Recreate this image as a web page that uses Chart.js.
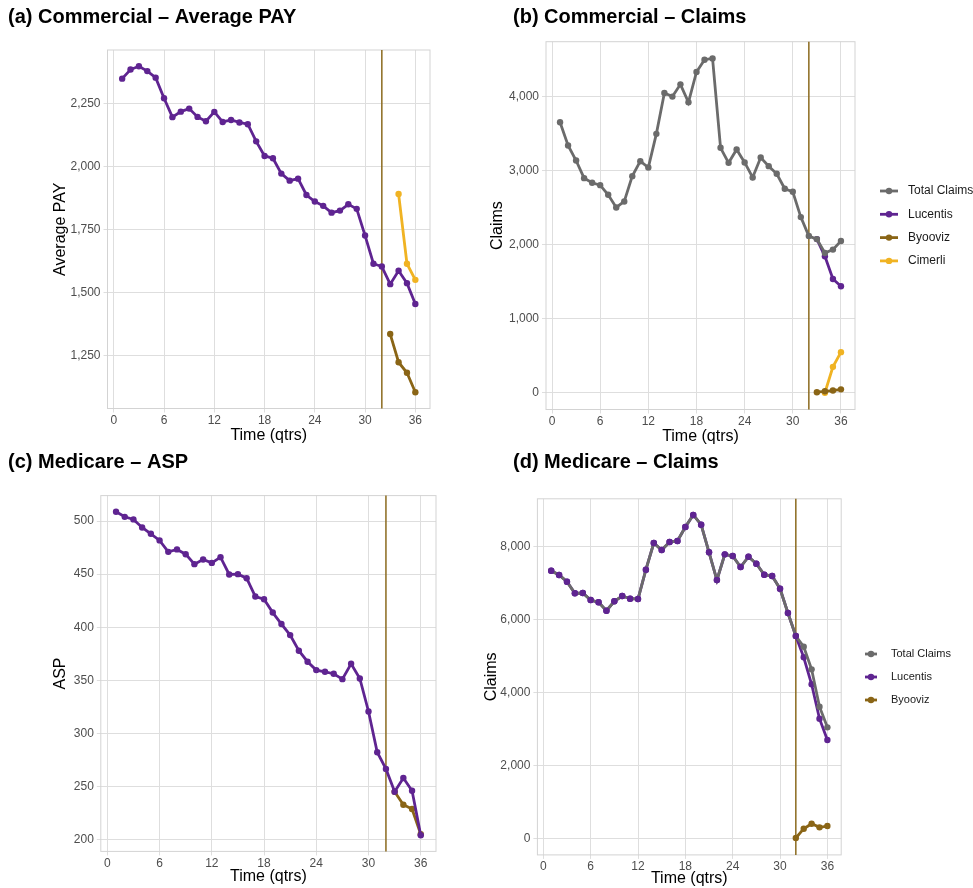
<!DOCTYPE html>
<html>
<head>
<meta charset="utf-8">
<script src="https://cdn.jsdelivr.net/npm/chart.js@4.4.1/dist/chart.umd.min.js"></script>
<style>
  body { margin: 0; background: #fff; width: 973px; height: 888px; position: relative; overflow: hidden; }
  canvas { position: absolute; }
</style>
</head>
<body>
<canvas id="chartA" width="486" height="445" style="left:0px;top:0px"></canvas>
<canvas id="chartB" width="487" height="446" style="left:486px;top:0px"></canvas>
<canvas id="chartC" width="486" height="443" style="left:0px;top:445px"></canvas>
<canvas id="chartD" width="503" height="443" style="left:470px;top:445px"></canvas>
<script>
// quarters on the x axis
const quarters = [1, 2, 3, 4, 5, 6, 7, 8, 9, 10, 11, 12, 13, 14, 15, 16, 17, 18,
  19, 20, 21, 22, 23, 24, 25, 26, 27, 28, 29, 30, 31, 32, 33, 34, 35, 36];
const xTicks = [0, 6, 12, 18, 24, 30, 36];
const entryQuarter = 32;

// (a) Commercial - Average PAY
const commPayLucentis = [2349, 2385, 2398, 2379, 2353, 2271, 2196, 2218, 2230, 2197, 2180, 2217,
  2177, 2185, 2175, 2168, 2100, 2042, 2033, 1972, 1944, 1952, 1887, 1861,
  1844, 1817, 1825, 1850, 1832, 1726, 1614, 1603, 1533, 1586, 1537, 1454];
const commPayByoovizQ = [33, 34, 35, 36];
const commPayByooviz = [1335, 1223, 1181, 1104];
const commPayCimerliQ = [34, 35, 36];
const commPayCimerli = [1891, 1614, 1550];
const payTicks = [1250, 1500, 1750, 2000, 2250];

// (b) Commercial - Claims
const commClaimsTotal = [3650, 3337, 3134, 2896, 2834, 2802, 2672, 2501, 2582, 2923, 3125, 3040,
  3494, 4046, 3997, 4162, 3920, 4329, 4495, 4512, 3306, 3103, 3283, 3108,
  2905, 3175, 3058, 2955, 2753, 2713, 2371, 2115, 2074, 1886, 1932, 2048];
const commClaimsLucentisQ = [33, 34, 35, 36];
const commClaimsLucentis = [2074, 1841, 1536, 1437];
const commClaimsByoovizQ = [33, 34, 35, 36];
const commClaimsByooviz = [8, 20, 30, 46];
const commClaimsCimerliQ = [34, 35, 36];
const commClaimsCimerli = [0, 350, 548];
const commClaimTicks = [0, 1000, 2000, 3000, 4000];

// (c) Medicare - ASP
const medAspLucentis = [508.8, 504, 501.6, 494, 488, 481.8, 471, 473.3, 468.8, 459.4, 463.8, 460.6,
  466, 449.7, 450, 446.2, 428.9, 426.4, 413.8, 403, 392.6, 377.9, 367.5, 359.6,
  358, 356.2, 351.1, 365.6, 351.7, 320.6, 282.2, 266.5, 245, 258, 246, 204];
const medAspByoovizQ = [33, 34, 35, 36];
const medAspByooviz = [245, 232.8, 228.7, 205];
const aspTicks = [200, 250, 300, 350, 400, 450, 500];

// (d) Medicare - Claims
const medClaimsTotal = [7343, 7225, 7042, 6724, 6732, 6540, 6477, 6247, 6505, 6650, 6576, 6568,
  7371, 8102, 7910, 8130, 8157, 8541, 8870, 8604, 7847, 7088, 7792, 7746,
  7445, 7727, 7535, 7234, 7198, 6850, 6184, 5554, 5261, 4641, 3617, 3052];
const medClaimsLucentis = [7343, 7225, 7042, 6724, 6732, 6540, 6477, 6247, 6505, 6650, 6576, 6568,
  7371, 8102, 7910, 8130, 8157, 8541, 8870, 8604, 7847, 7088, 7792, 7746,
  7445, 7727, 7535, 7234, 7198, 6850, 6184, 5554, 4970, 4231, 3288, 2704];
const medClaimsByoovizQ = [32, 33, 34, 35, 36];
const medClaimsByooviz = [20, 274, 411, 312, 348];
const medClaimTicks = [0, 2000, 4000, 6000, 8000];

const FONT = '"Liberation Sans", Arial, sans-serif';
const PURPLE = '#5F2491';
const GREY = '#6B6B6B';
const BROWN = '#8A6516';
const GOLD = '#F0B323';
const VLINE = '#8B6A1E';
const GRID = '#DEDEDE';

Chart.defaults.font.family = FONT;

function series(label, xs, ys, color, extra) {
  return Object.assign({
    label: label,
    data: xs.map((x, i) => ({ x: x, y: ys[i] })),
    borderColor: color,
    backgroundColor: color,
    pointBackgroundColor: color,
    pointBorderColor: color,
    borderWidth: 2.8,
    pointRadius: 3.2,
    pointBorderWidth: 0,
    tension: 0
  }, extra || {});
}

// frame, entry line, panel title and the side legend
function decor(o) {
  return {
    id: 'decor',
    beforeDatasetsDraw(chart) {
      const ctx = chart.ctx, a = chart.chartArea;
      ctx.save();
      ctx.strokeStyle = '#D3D3D3';
      ctx.lineWidth = 1;
      ctx.strokeRect(a.left, a.top, a.right - a.left, a.bottom - a.top);
      const vx = chart.scales.x.getPixelForValue(entryQuarter);
      ctx.strokeStyle = VLINE;
      ctx.lineWidth = 1.5;
      ctx.beginPath();
      ctx.moveTo(vx, a.top);
      ctx.lineTo(vx, a.bottom);
      ctx.stroke();
      ctx.restore();
    },
    afterDraw(chart) {
      const ctx = chart.ctx;
      ctx.save();
      ctx.fillStyle = '#000';
      ctx.textBaseline = 'middle';
      ctx.font = 'bold 20px ' + FONT;
      ctx.fillText(o.title, o.titleX, 17);
      if (o.legend) {
        const lg = o.legend;
        ctx.font = lg.size + 'px ' + FONT;
        lg.items.forEach((it, i) => {
          const y = lg.y + i * lg.step;
          ctx.strokeStyle = it.color;
          ctx.fillStyle = it.color;
          ctx.lineWidth = 2.8;
          ctx.beginPath();
          ctx.moveTo(lg.x, y);
          ctx.lineTo(lg.x + lg.len, y);
          ctx.stroke();
          ctx.beginPath();
          ctx.arc(lg.x + lg.len / 2, y, 3.2, 0, Math.PI * 2);
          ctx.fill();
          ctx.fillStyle = '#1A1A1A';
          ctx.fillText(it.label, lg.textX, y);
        });
      }
      ctx.restore();
    }
  };
}

function makePanel(id, o) {
  new Chart(document.getElementById(id), {
    type: 'line',
    data: { datasets: o.datasets },
    options: {
      responsive: false,
      animation: false,
      events: [],
      layout: { padding: o.padding },
      plugins: { legend: { display: false }, title: { display: false }, tooltip: { enabled: false } },
      scales: {
        x: {
          type: 'linear',
          min: -0.75,
          max: 37.75,
          afterBuildTicks: s => { s.ticks = xTicks.map(v => ({ value: v })); },
          afterFit: s => { s.height = o.xHeight; },
          grid: { color: GRID, lineWidth: 1, tickLength: 4 },
          border: { display: false },
          ticks: { color: '#4D4D4D', font: { size: 12 }, padding: 1, maxRotation: 0, autoSkip: false },
          title: { display: true, text: 'Time (qtrs)', color: '#000', font: { size: 16 }, padding: { top: 0, bottom: 0 } }
        },
        y: {
          type: 'linear',
          min: o.yMin,
          max: o.yMax,
          afterBuildTicks: s => { s.ticks = o.yTicks.map(v => ({ value: v })); },
          afterFit: s => { s.width = o.yWidth; },
          grid: { color: GRID, lineWidth: 1, tickLength: 4 },
          border: { display: false },
          ticks: { color: '#4D4D4D', font: { size: 12 }, padding: 3, callback: v => v.toLocaleString('en-US') },
          title: { display: true, text: o.yTitle, color: '#000', font: { size: 16 }, padding: { top: o.yTitlePad, bottom: 0 } }
        }
      }
    },
    plugins: [decor(o)]
  });
}

makePanel('chartA', {
  title: '(a) Commercial \u2013 Average PAY', titleX: 8,
  padding: { left: 0, top: 50, right: 56, bottom: 0 },
  yWidth: 107.5, xHeight: 36.5, yTitlePad: 51,
  yTitle: 'Average PAY', yMin: 1039.3, yMax: 2462.7, yTicks: payTicks,
  datasets: [
    series('Lucentis', quarters, commPayLucentis, PURPLE),
    series('Byooviz', commPayByoovizQ, commPayByooviz, BROWN),
    series('Cimerli', commPayCimerliQ, commPayCimerli, GOLD)
  ]
});

makePanel('chartB', {
  title: '(b) Commercial \u2013 Claims', titleX: 27,
  padding: { left: 0, top: 41.7, right: 118, bottom: 0 },
  yWidth: 60, xHeight: 36.5, yTitlePad: 2.4,
  yTitle: 'Claims', yMin: -225.6, yMax: 4737.6, yTicks: commClaimTicks,
  datasets: [
    series('Total Claims', quarters, commClaimsTotal, GREY),
    series('Lucentis', commClaimsLucentisQ, commClaimsLucentis, PURPLE),
    series('Byooviz', commClaimsByoovizQ, commClaimsByooviz, BROWN),
    series('Cimerli', commClaimsCimerliQ, commClaimsCimerli, GOLD)
  ],
  legend: {
    x: 394, len: 18, textX: 422, y: 191, step: 23.3, size: 12,
    items: [
      { label: 'Total Claims', color: GREY },
      { label: 'Lucentis', color: PURPLE },
      { label: 'Byooviz', color: BROWN },
      { label: 'Cimerli', color: GOLD }
    ]
  }
});

makePanel('chartC', {
  title: '(c) Medicare \u2013 ASP', titleX: 8,
  padding: { left: 0, top: 50.6, right: 50, bottom: 2 },
  yWidth: 100.8, xHeight: 34.6, yTitlePad: 51,
  yTitle: 'ASP', yMin: 188.8, yMax: 524, yTicks: aspTicks,
  datasets: [
    series('Lucentis', quarters, medAspLucentis, PURPLE),
    series('Byooviz', medAspByoovizQ, medAspByooviz, BROWN)
  ]
});

makePanel('chartD', {
  title: '(d) Medicare \u2013 Claims', titleX: 43,
  padding: { left: 0, top: 53.8, right: 131.8, bottom: 0 },
  yWidth: 67.4, xHeight: 33.1, yTitlePad: 12.4,
  yTitle: 'Claims', yMin: -443.5, yMax: 9313.5, yTicks: medClaimTicks,
  datasets: [
    series('Total Claims', quarters, medClaimsTotal, GREY, {
      pointBackgroundColor: quarters.map(q => q <= entryQuarter ? PURPLE : GREY),
      pointBorderColor: quarters.map(q => q <= entryQuarter ? PURPLE : GREY)
    }),
    series('Lucentis', quarters, medClaimsLucentis, PURPLE),
    series('Byooviz', medClaimsByoovizQ, medClaimsByooviz, BROWN)
  ],
  legend: {
    x: 395, len: 12, textX: 421, y: 209, step: 23, size: 11,
    items: [
      { label: 'Total Claims', color: GREY },
      { label: 'Lucentis', color: PURPLE },
      { label: 'Byooviz', color: BROWN }
    ]
  }
});
</script>
</body>
</html>
